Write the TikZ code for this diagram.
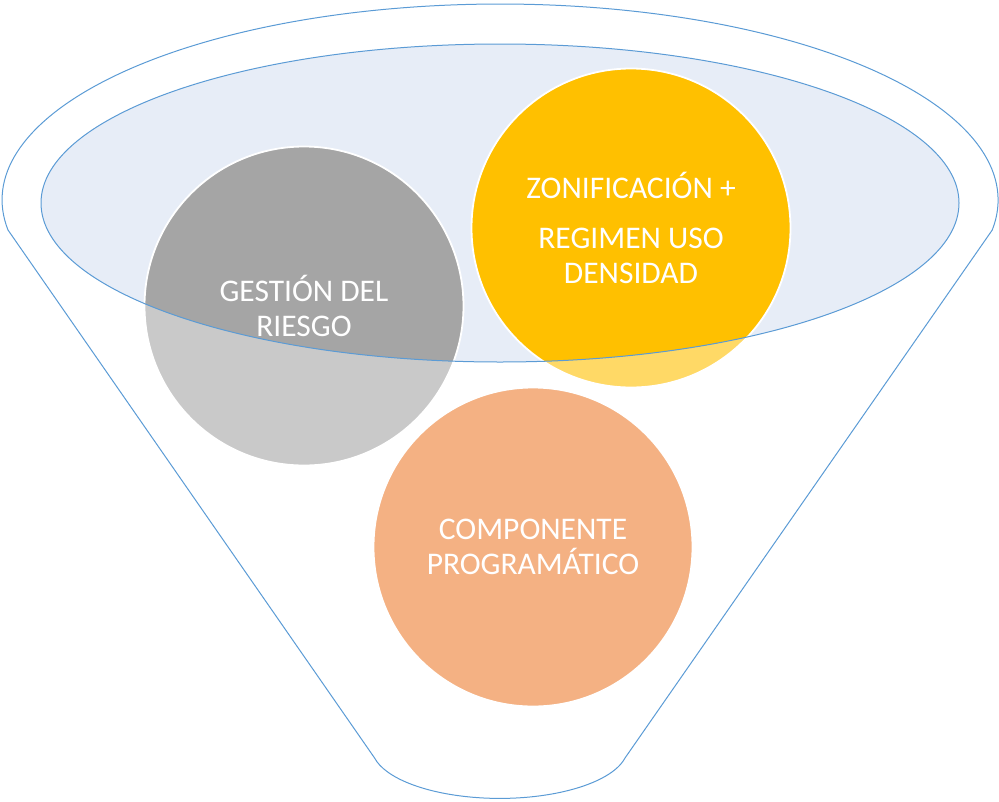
\documentclass[tikz,border=0pt]{standalone}
\usepackage{fontspec}
\setmainfont{Carlito}
\definecolor{funnelblue}{HTML}{5B9BD5}
\definecolor{mouthfill}{HTML}{E7EDF7}
\definecolor{riesgodark}{HTML}{A5A5A5}
\definecolor{riesgolight}{HTML}{C9C9C9}
\definecolor{zonadark}{HTML}{FFC000}
\definecolor{zonalight}{HTML}{FFD966}
\definecolor{progfill}{HTML}{F4B183}
\begin{document}
\begin{tikzpicture}[x = 1pt, y = -1pt]
        \tikzstyle{disc} = [shape = circle, minimum size = 319pt, inner sep = 0pt]
        \tikzstyle{rim} = [draw = white, line width = 1.8pt]
        \tikzstyle{disctext} = [text = white, align = center, font = \fontsize{31.5}{35}\selectfont]
        \useasboundingbox (0, 0) rectangle (999, 801);
        % funnel outline
        \draw[funnelblue, line width = 1pt] (8, 230) arc[start angle = 171.2, end angle = 368.8, x radius = 498, y radius = 196] -- (625, 758) arc[start angle = 12, end angle = 168, x radius = 128, y radius = 51] -- cycle;
        \coordinate (mouth) at (500, 203);
        \fill[mouthfill] (mouth) ellipse[x radius = 459, y radius = 159];
        \node[disc, fill = riesgolight] (riesgo) at (304, 306) {};
        \node[disc, fill = zonalight] (zona) at (631, 228) {};
        \node[disc, fill = progfill] (prog) at (533, 547) {};
        \begin{scope}
          \clip (mouth) ellipse[x radius = 459, y radius = 159];
          \fill[riesgodark] (riesgo) circle[radius = 159.5];
          \fill[zonadark] (zona) circle[radius = 159.5];
        \end{scope}
        \draw[rim] (riesgo) circle[radius = 159.5];
        \draw[rim] (zona) circle[radius = 159.5];
        \draw[rim] (prog) circle[radius = 159.5];
        \draw[funnelblue, line width = 1pt] (mouth) ellipse[x radius = 459, y radius = 159];
        \node[disctext] (riesgo-text) at (riesgo) {GESTIÓN DEL\\RIESGO};
        \node[disctext] (zona-text) at (zona) {ZONIFICACIÓN +\\[15pt]REGIMEN USO\\DENSIDAD};
        \node[disctext] (prog-text) at (prog) {COMPONENTE\\PROGRAMÁTICO};
      \end{tikzpicture}
\end{document}
